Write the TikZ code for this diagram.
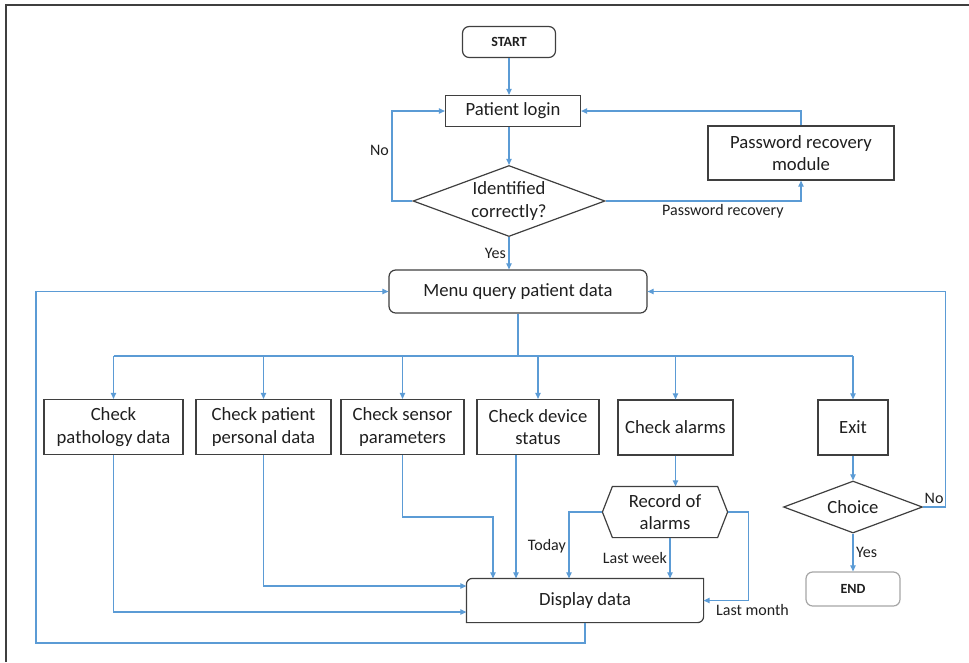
\documentclass[tikz,border=0pt]{standalone}
\usepackage{fontspec}
\setmainfont{Carlito}
\usetikzlibrary{positioning, arrows.meta, shapes.geometric, calc}
\definecolor{flowblue}{HTML}{5B9BD5}
\definecolor{boxgray}{HTML}{3F3F3F}
\definecolor{endgray}{HTML}{A6A6A6}

\begin{document}
\begin{tikzpicture}[
            x=0.75pt, y=-0.75pt,
            box/.style={rectangle, draw=boxgray, line width=0.9pt, inner sep=0pt,
                        align=center, text=black!88, font=\fontsize{14}{17}\selectfont},
            menubox/.style={box, rounded corners=5pt},
            term/.style={box, rounded corners=5pt, font=\fontsize{10.5}{12}\selectfont\bfseries},
            decision/.style={box, diamond, aspect=2.7},
            plain/.style={box, draw=none},
            outline/.style={draw=boxgray, line width=0.9pt},
            arrow/.style={-{Triangle[length=4.5pt,width=4pt]}, flowblue, line width=0.8pt},
            link/.style={flowblue, line width=0.8pt},
            lbl/.style={font=\fontsize{12}{14}\selectfont, text=black!88, inner sep=2pt},
        ]
            \useasboundingbox (0,0) rectangle (969,662);
            \draw[boxgray, line width=1.5pt] (6,662) -- (6,5) -- (969,5);

            % Login part on the upper centre line
            \node[term, minimum width=69.75pt, minimum height=23.25pt] (start) at (509,42) {START};
            \node[box, minimum width=101.25pt, minimum height=23.25pt] (login) at (513,111) {Patient login};
            \node[decision, minimum width=144pt, minimum height=53.25pt] (ident) at (509,201)
                {Identified\\correctly?};
            \node[box, minimum width=139.5pt, minimum height=40.5pt] (pwd) at (801,153)
                {Password recovery\\module};
            \node[menubox, minimum width=193.5pt, minimum height=32.25pt] (menu) at (518,291.5)
                {Menu query patient data};

            \draw[arrow] (start.south) -- (start.south |- login.north);
            \draw[arrow] (ident.north |- login.south) -- (ident.north);
            \coordinate (nobend) at (392,201);
            \draw[arrow] (ident.west) -- (nobend) |- node[pos=0.28, lbl, left] {No} (login.west);
            \draw[arrow] (ident.east) -| node[pos=0.3, lbl, below] {Password recovery} (pwd.south);
            \draw[arrow] (pwd.north) |- (login.east);
            \draw[arrow] (ident.south) -- node[lbl, left] {Yes} (ident.south |- menu.north);

            % Menu options
            \node[box, minimum width=104.25pt, minimum height=41.25pt] (patho) at (113.5,427)
                {Check\\pathology data};
            \node[box, minimum width=101.25pt, minimum height=41.25pt] (personal) at (263.5,427)
                {Check patient\\personal data};
            \node[box, minimum width=92.25pt, minimum height=41.25pt] (sensor) at (402.5,427)
                {Check sensor\\parameters};
            \node[box, minimum width=91.5pt, minimum height=41.25pt] (device) at (538,427)
                {Check device\\status};
            \node[box, minimum width=86.25pt, minimum height=41.25pt] (alarms) at (675.5,427.5)
                {Check alarms};
            \node[box, minimum width=52.5pt, minimum height=41.25pt] (exit) at (853,427.5) {Exit};

            \coordinate (bus) at (517,356);
            \draw[link] (menu.south) -- (menu.south |- bus);
            \draw[link] (patho.north |- bus) -- (exit.north |- bus);
            \draw[arrow] (patho.north |- bus) -- (patho.north);
            \draw[arrow] (personal.north |- bus) -- (personal.north);
            \draw[arrow] (sensor.north |- bus) -- (sensor.north);
            \draw[arrow] (device.north |- bus) -- (device.north);
            \draw[arrow] (alarms.north |- bus) -- (alarms.north);
            \draw[arrow] (exit.north |- bus) -- (exit.north);

            % Alarm record and display
            \node[plain, minimum width=93pt, minimum height=37.5pt] (rec) at (665,512) {Record of\\alarms};
            \draw[outline] (rec.west) -- ([xshift=7.5pt]rec.north west) -- ([xshift=-7.5pt]rec.north east)
                -- (rec.east) -- ([xshift=-7.5pt]rec.south east) -- ([xshift=7.5pt]rec.south west) -- cycle;
            \node[plain, minimum width=177pt, minimum height=32.25pt] (disp) at (585,600.5) {Display data};
            \draw[outline] (disp.north east) -- ([xshift=4.5pt]disp.north west)
                arc[start angle=90, end angle=180, radius=4.5pt] -- (disp.south west)
                -- ([xshift=-4.5pt]disp.south east) arc[start angle=270, end angle=360, radius=4.5pt] -- cycle;

            \draw[arrow] (patho.south) |- ($(disp.west)+(0,11.5)$);
            \draw[arrow] (personal.south) |- ($(disp.west)+(0,-14.5)$);
            \coordinate (sbend) at (493,517);
            \draw[arrow] (sensor.south) |- (sbend) -- (sbend |- disp.north);
            \coordinate (dline) at ($(device.south)+(-22,0)$);
            \draw[arrow] (dline) -- (dline |- disp.north);

            \draw[arrow] (alarms.south) -- (alarms.south |- rec.north);
            \coordinate (today) at (569,512);
            \draw[arrow] (rec.west) -| node[pos=0.76, lbl, left] {Today} (today |- disp.north);
            \coordinate (week) at ($(rec.south)+(5,0)$);
            \draw[arrow] (week) -- node[lbl, left] {Last week} (week |- disp.north);
            \coordinate (month) at ($(rec.east)+(21,0)$);
            \draw[arrow] (rec.east) -- (month) |- (disp.east)
                node[lbl, anchor=base west, xshift=7pt, yshift=-11pt] {Last month};

            % Exit branch
            \node[decision, minimum width=104.25pt, minimum height=39pt] (choice) at (853,507) {Choice};
            \node[term, draw=endgray, minimum width=70.5pt, minimum height=25.5pt] (stop) at (853,589) {END};
            \draw[arrow] (exit) -- (choice);
            \draw[arrow] (choice.east) -- ++(22,0) node[midway, lbl, above] {No} |- (menu.east);
            \draw[arrow] (choice) -- node[lbl, right] {Yes} (stop);

            % Display back to menu
            \coordinate (loop) at (36,643);
            \draw[arrow] (disp.south) |- (loop) |- (menu.west);
        \end{tikzpicture}
\end{document}
